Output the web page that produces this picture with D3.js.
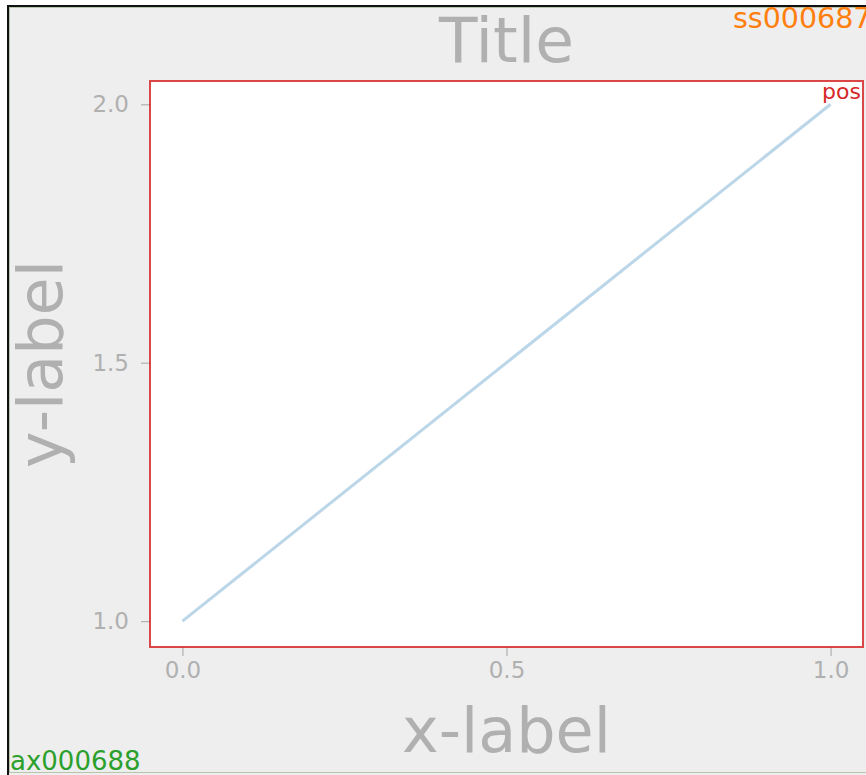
<!DOCTYPE html>
<html><head><meta charset="utf-8">
<script src="https://cdn.jsdelivr.net/npm/d3@7"></script>
<style>html,body{margin:0;padding:0;background:#fff;overflow:hidden}svg{display:block;font-family:"DejaVu Sans",sans-serif}</style>
</head><body>
<script>
const xValues = [0, 1];
const yValues = [1, 2];
const xTicks = [0, 0.5, 1];
const yTicks = [1, 1.5, 2];
const titleText = "Title";
const xLabelText = "x-label";
const yLabelText = "y-label";
const figLabel = "ss000687";
const axLabel = "ax000688";
const posLabel = "pos";

const W = 866, H = 775;
const svg = d3.select("body").append("svg").attr("width", W).attr("height", H);

// figure background
svg.append("rect").attr("x", 8).attr("y", 6).attr("width", W).attr("height", H).attr("fill", "#eeeeee");
svg.append("line").attr("x1", 7).attr("x2", W).attr("y1", 6).attr("y2", 6).attr("stroke", "#111").attr("stroke-width", 2);
svg.append("line").attr("x1", 8).attr("x2", 8).attr("y1", 5).attr("y2", H).attr("stroke", "#111").attr("stroke-width", 2);
svg.append("line").attr("x1", 9.5).attr("x2", 9.5).attr("y1", 7).attr("y2", 773).attr("stroke", "#b9c4ad").attr("stroke-width", 1);
svg.append("line").attr("x1", 9).attr("x2", W).attr("y1", 7.5).attr("y2", 7.5).attr("stroke", "#b9c4ad").attr("stroke-width", 1);
svg.append("line").attr("x1", 9).attr("x2", W).attr("y1", 772.5).attr("y2", 772.5).attr("stroke", "#b9c4ad").attr("stroke-width", 1);

const L = 150, R = 863, T = 81, B = 647;
const x = d3.scaleLinear().domain([-0.05, 1.05]).range([L, R]);
const y = d3.scaleLinear().domain([0.95, 2.045]).range([B, T]);

svg.append("rect").attr("x", L).attr("y", T).attr("width", R - L).attr("height", B - T).attr("fill", "#fff");

const gray = "#b0b0b0";
const xAxis = svg.append("g").attr("transform", `translate(0,${B})`)
  .call(d3.axisBottom(x).tickValues(xTicks).tickFormat(d3.format(".1f")).tickSize(9).tickPadding(6));
const yAxis = svg.append("g").attr("transform", `translate(${L},0)`)
  .call(d3.axisLeft(y).tickValues(yTicks).tickFormat(d3.format(".1f")).tickSize(9).tickPadding(12));
[xAxis, yAxis].forEach(g => {
  g.select(".domain").remove();
  g.selectAll("line").attr("stroke", gray).attr("stroke-width", 1.2);
  g.selectAll("text").attr("fill", gray).attr("font-size", 23).attr("font-family", "DejaVu Sans");
});

svg.append("path").datum(xValues.map((d, i) => [d, yValues[i]]))
  .attr("d", d3.line().x(d => x(d[0])).y(d => y(d[1])))
  .attr("fill", "none").attr("stroke", "#1f77b4").attr("stroke-opacity", 0.3).attr("stroke-width", 3);

svg.append("rect").attr("x", L).attr("y", T).attr("width", R - L).attr("height", B - T)
  .attr("fill", "none").attr("stroke", "#d62728").attr("stroke-opacity", 0.85).attr("stroke-width", 2);

const cx = (L + R) / 2, cy = (T + B) / 2;
svg.append("text").attr("x", cx).attr("y", 62).attr("text-anchor", "middle")
  .attr("font-size", 63).attr("fill", gray).text(titleText);
svg.append("text").attr("x", cx).attr("y", 752).attr("text-anchor", "middle")
  .attr("font-size", 62).attr("fill", gray).text(xLabelText);
svg.append("text").attr("transform", `translate(62,${cy}) rotate(-90)`).attr("text-anchor", "middle")
  .attr("font-size", 62).attr("fill", gray).text(yLabelText);

svg.append("text").attr("x", 733).attr("y", 28).attr("font-size", 28.5).attr("fill", "#ff7f0e").text(figLabel);
svg.append("text").attr("x", 861).attr("y", 99).attr("text-anchor", "end").attr("font-size", 22).attr("fill", "#d62728").text(posLabel);
svg.append("text").attr("x", 10).attr("y", 770).attr("font-size", 26).attr("fill", "#2ca02c").text(axLabel);
</script>
</body></html>
